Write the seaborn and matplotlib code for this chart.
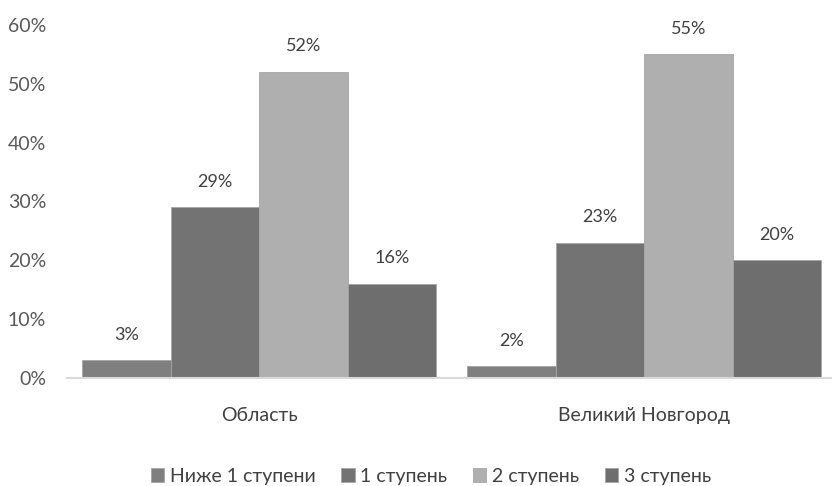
import pandas as pd
import matplotlib.pyplot as plt
import seaborn as sns
from matplotlib.ticker import PercentFormatter

# данные
regions = ['Область', 'Великий Новгород']
levels = ['Ниже 1 ступени', '1 ступень', '2 ступень', '3 ступень']
oblast = [0.03, 0.29, 0.52, 0.16]
novgorod = [0.02, 0.23, 0.55, 0.20]
colors = ['#7f7f7f', '#737373', '#afafaf', '#6e6e6e']

df = pd.DataFrame({
    'Регион': [regions[0]] * 4 + [regions[1]] * 4,
    'Уровень': levels * 2,
    'Доля': oblast + novgorod,
})

sns.set_style('white')
plt.rcParams['font.family'] = ['Lato', 'DejaVu Sans']

fig = plt.figure(figsize=(8.32, 4.86), dpi=100)
ax = fig.add_axes([0.0805, 0.2222, 0.925, 0.7264])

sns.barplot(data=df, x='Регион', y='Доля', hue='Уровень', hue_order=levels,
            palette=colors, width=0.92, edgecolor='#a6a6a6', linewidth=0.6,
            saturation=1, ax=ax, legend=True)

# подписи над столбцами
for cont in ax.containers:
    for bar in cont:
        h = bar.get_height()
        ax.annotate(f'{h:.0%}', (bar.get_x() + bar.get_width() / 2, h),
                    xytext=(0, 18.5), textcoords='offset points',
                    ha='center', va='center', fontsize=13, color='#404040')

ax.set_ylim(0, 0.6)
ax.set_xlim(-0.5, 1.5)
ax.yaxis.set_major_formatter(PercentFormatter(1.0, decimals=0))
ax.set_yticks([0, 0.1, 0.2, 0.3, 0.4, 0.5, 0.6])
ax.tick_params(axis='y', labelsize=14, labelcolor='#595959', length=0, pad=15)
ax.tick_params(axis='x', labelsize=14, labelcolor='#404040', length=0, pad=21)
ax.set_xlabel('')
ax.set_ylabel('')

for s in ['top', 'right', 'left']:
    ax.spines[s].set_visible(False)
ax.spines['bottom'].set_color('#d9d9d9')
ax.spines['bottom'].set_linewidth(1.5)

ax.legend(loc='center', bbox_to_anchor=(0.473, -0.278), ncol=4, frameon=False,
          fontsize=14, handlelength=0.7, handleheight=0.7, handletextpad=0.3,
          columnspacing=1.3, labelcolor='#404040')

fig.savefig('out.png', dpi=100)
